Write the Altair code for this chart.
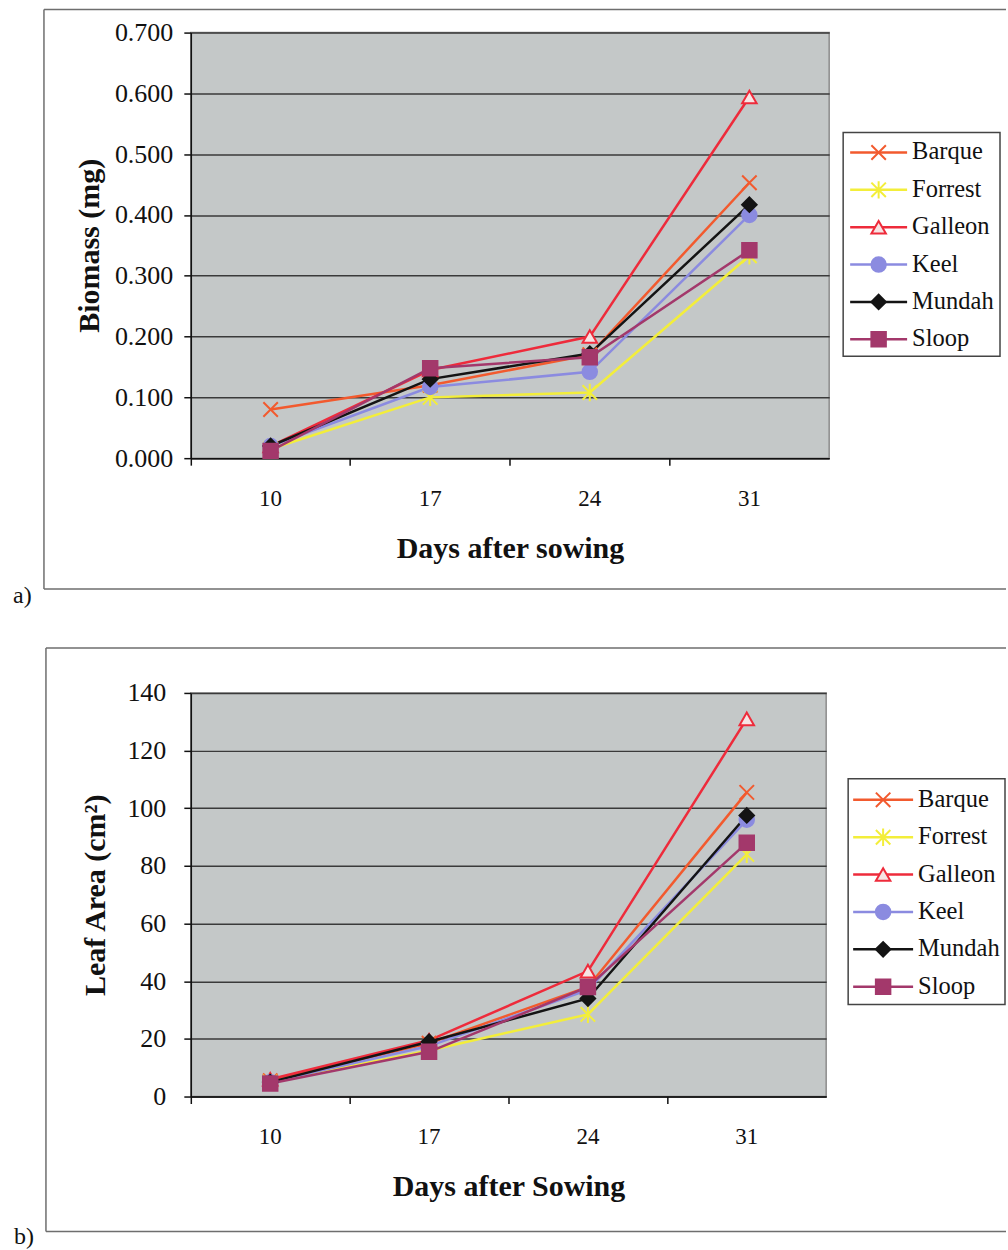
import altair as alt
import pandas as pd

# Sampling days and cultivars
days = [10, 17, 24, 31]
varieties = ["Barque", "Forrest", "Galleon", "Keel", "Mundah", "Sloop"]

# a) Biomass (mg) per seedling
biomass_barque = [0.080, 0.120, 0.170, 0.453]
biomass_forrest = [0.015, 0.100, 0.108, 0.333]
biomass_galleon = [0.020, 0.145, 0.200, 0.594]
biomass_keel = [0.020, 0.117, 0.142, 0.400]
biomass_mundah = [0.020, 0.130, 0.172, 0.417]
biomass_sloop = [0.012, 0.148, 0.166, 0.342]

# b) Leaf area (cm2) per seedling
leaf_barque = [5.5, 18.5, 38.0, 105.5]
leaf_forrest = [5.0, 16.0, 28.5, 84.0]
leaf_galleon = [6.0, 19.5, 43.5, 131.0]
leaf_keel = [5.0, 17.5, 37.0, 96.0]
leaf_mundah = [5.0, 19.0, 34.0, 97.5]
leaf_sloop = [4.5, 15.5, 38.0, 88.0]

biomass_ticks = [0.0, 0.1, 0.2, 0.3, 0.4, 0.5, 0.6, 0.7]
leaf_ticks = [0, 20, 40, 60, 80, 100, 120, 140]

line_colors = ["#F25A2E", "#F3EE3A", "#EE2B3B", "#8B8BE0", "#141414", "#A3386B"]
fill_colors = ["transparent", "transparent", "#F6E4E4", "#8B8BE0", "#141414", "#A3386B"]
shapes = [
    "M-1,-1L1,1M-1,1L1,-1",
    "M-1,-1L1,1M-1,1L1,-1M0,-1.2L0,1.2",
    "triangle-up",
    "circle",
    "diamond",
    "square",
]

SERIF = "Liberation Serif"


def long_frame(series):
    rows = []
    for name, vals in zip(varieties, series):
        for d, v in zip(days, vals):
            rows.append({"Day": d, "Variety": name, "Value": v})
    return pd.DataFrame(rows)


biomass_df = long_frame([biomass_barque, biomass_forrest, biomass_galleon,
                         biomass_keel, biomass_mundah, biomass_sloop])
leaf_df = long_frame([leaf_barque, leaf_forrest, leaf_galleon,
                      leaf_keel, leaf_mundah, leaf_sloop])
legend_df = pd.DataFrame({"Variety": varieties})
one_row = pd.DataFrame({"k": [0]})

color_scale = alt.Scale(domain=varieties, range=line_colors)
fill_scale = alt.Scale(domain=varieties, range=fill_colors)
shape_scale = alt.Scale(domain=varieties, range=shapes)


def panel(df, width, height, y_title, y_domain, y_values, y_format, x_title,
          y_label_pad, y_title_pad, legend_box, legend_rows, legend_line,
          legend_text_x, frame, tag, tag_pos):
    x_enc = alt.X(
        "Day:O",
        bandPosition=0.5,
        scale=alt.Scale(type="band", paddingInner=0, paddingOuter=0),
        axis=alt.Axis(title=x_title, labelAngle=0, bandPosition=0,
                      labelOffset=0, labelPadding=22, labelFontSize=23,
                      titlePadding=23, grid=False),
    )
    y_enc = alt.Y(
        "Value:Q",
        scale=alt.Scale(domain=y_domain, nice=False, zero=True),
        axis=alt.Axis(title=y_title, values=y_values, format=y_format,
                      labelPadding=y_label_pad, labelFontSize=26,
                      titlePadding=y_title_pad, grid=True),
    )

    base = alt.Chart(df)
    lines = base.mark_line(strokeWidth=2.5).encode(
        x=x_enc, y=y_enc,
        color=alt.Color("Variety:N", scale=color_scale, legend=None),
        detail="Variety:N",
    )
    points = base.mark_point(filled=False, size=210, strokeWidth=2, opacity=1).encode(
        x=x_enc, y=y_enc,
        stroke=alt.Stroke("Variety:N", scale=color_scale, legend=None),
        fill=alt.Fill("Variety:N", scale=fill_scale, legend=None),
        shape=alt.Shape("Variety:N", scale=shape_scale, legend=None),
    )
    plot = alt.layer(lines, points)

    # key: one row per cultivar, placed by a point scale
    ly = alt.Y("Variety:N", scale=alt.Scale(type="point", domain=varieties,
                                            range=list(legend_rows), padding=0),
               axis=None)
    bx0, bx1, by0, by1 = legend_box
    key_box = alt.Chart(one_row).mark_rect(fill="white", stroke="#444444",
                                            strokeWidth=1.5).encode(
        x=alt.value(bx0), x2=alt.value(bx1), y=alt.value(by0), y2=alt.value(by1))
    lx0, lx1 = legend_line
    key_lines = alt.Chart(legend_df).mark_rule(strokeWidth=2.5).encode(
        x=alt.value(lx0), x2=alt.value(lx1), y=ly,
        color=alt.Color("Variety:N", scale=color_scale, legend=None))
    key_points = alt.Chart(legend_df).mark_point(filled=False, size=210,
                                                 strokeWidth=2, opacity=1).encode(
        x=alt.value((lx0 + lx1) / 2), y=ly,
        stroke=alt.Stroke("Variety:N", scale=color_scale, legend=None),
        fill=alt.Fill("Variety:N", scale=fill_scale, legend=None),
        shape=alt.Shape("Variety:N", scale=shape_scale, legend=None))
    key_text = alt.Chart(legend_df).mark_text(
        align="left", baseline="middle", font=SERIF, fontSize=24.5, color="#111111"
    ).encode(x=alt.value(legend_text_x), y=ly, text="Variety:N")
    key = alt.layer(key_box, key_lines, key_points, key_text)

    # surrounding frame (top, left, bottom) and panel tag
    fx0, fx1, fy0, fy1 = frame
    frame_style = dict(color="#6e6e6e", strokeWidth=1.5)
    f_top = alt.Chart(one_row).mark_rule(**frame_style).encode(
        x=alt.value(fx0), x2=alt.value(fx1), y=alt.value(fy0))
    f_bottom = alt.Chart(one_row).mark_rule(**frame_style).encode(
        x=alt.value(fx0), x2=alt.value(fx1), y=alt.value(fy1))
    f_left = alt.Chart(one_row).mark_rule(**frame_style).encode(
        x=alt.value(fx0), y=alt.value(fy0), y2=alt.value(fy1))
    tag_text = alt.Chart(one_row).mark_text(
        align="left", baseline="alphabetic", font=SERIF, fontSize=24, color="#111111"
    ).encode(x=alt.value(tag_pos[0]), y=alt.value(tag_pos[1]), text=alt.value(tag))

    return alt.layer(plot, key, f_top, f_bottom, f_left, tag_text).resolve_scale(
        y="independent").properties(width=width, height=height)


top = panel(
    biomass_df, 639, 426, "Biomass (mg)", [0, 0.7], biomass_ticks, ".3f",
    "Days after sowing", 11, 10,
    legend_box=(653, 810, 100, 324), legend_rows=(120, 307),
    legend_line=(660, 717), legend_text_x=722,
    frame=(-147, 816, -23, 557), tag="a)", tag_pos=(-178, 571),
)
bottom = panel(
    leaf_df, 636, 404, "Leaf Area (cm²)", [0, 140], leaf_ticks, "d",
    "Days after Sowing", 18, 16,
    legend_box=(658, 815, 86, 312), legend_rows=(107, 294),
    legend_line=(663, 723), legend_text_x=728,
    frame=(-145, 816, -45, 539), tag="b)", tag_pos=(-177, 552),
)

chart = alt.concat(top, bottom, columns=1, spacing=37).properties(
    padding={"left": 12, "top": 7, "right": 0, "bottom": 0},
    background="white",
).configure_view(
    fill="#C4C8C8", stroke="#8C8C8C", strokeWidth=1.5,
).configure_axis(
    labelFont=SERIF, labelColor="#111111",
    titleFont=SERIF, titleFontSize=30, titleFontWeight="bold", titleColor="#111111",
    domainColor="#111111", domainWidth=1.5,
    tickColor="#111111", tickSize=7, tickWidth=1.5,
    gridColor="#3A3A3A", gridWidth=1.5,
)

chart.save("out.html", embed_options={"renderer": "svg", "actions": False})
